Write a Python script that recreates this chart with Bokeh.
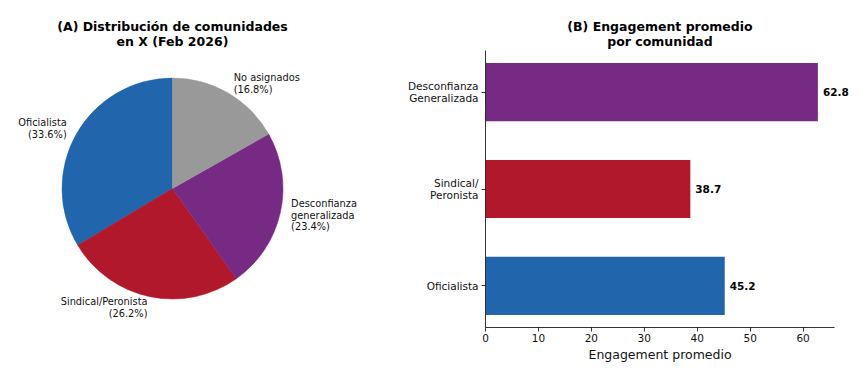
import numpy as np
from bokeh.plotting import figure
from bokeh.layouts import row
from bokeh.models import ColumnDataSource, Range1d, FixedTicker, LabelSet, Title
from bokeh.core.properties import value
from bokeh.embed import file_html
from bokeh.resources import INLINE

FONT = "DejaVu Sans"

# ---- Panel A data ----
pie_labels = ["Oficialista", "Sindical/Peronista", "Desconfianza\ngeneralizada", "No asignados"]
pie_shares = [33.6, 26.2, 23.4, 16.8]
pie_colors = ["#2166ac", "#b2182b", "#762a83", "#999999"]
pie_title = "(A) Distribución de comunidades\nen X (Feb 2026)"

# ---- Panel B data ----
bar_labels = ["Oficialista", "Sindical/\nPeronista", "Desconfianza\nGeneralizada"]
bar_values = [45.2, 38.7, 62.8]
bar_colors = ["#2166ac", "#b2182b", "#762a83"]
x_ticks = [0, 10, 20, 30, 40, 50, 60]
bar_title = "(B) Engagement promedio\npor comunidad"
x_label = "Engagement promedio"

# ---- layout (pixels) ----
H = 366
BOTTOM = 39            # space under the frames for the x axis
FRAME_H = H - BOTTOM   # 327
W1 = 398
W2 = 456
LEFT2 = 87
FRAME_W2 = W2 - LEFT2  # 369
AXIS_W2 = 349          # visible length of the x spine

X_MAX = 65.94          # x-axis limit
Y_MIN, Y_MAX = -0.43, 2.43
AXIS_H2 = 277          # visible length of the y spine

# ---------------- Pie ----------------
p1 = figure(width=W1, height=H, x_range=Range1d(0, W1), y_range=Range1d(0, FRAME_H),
            output_backend="svg", toolbar_location=None, title=None,
            min_border_left=0, min_border_right=0, min_border_top=0, min_border_bottom=BOTTOM,
            x_axis_location=None, y_axis_location=None)
p1.grid.visible = False
p1.outline_line_color = None

cx, cy, r = 172, FRAME_H - 188, 110.5
shares = np.array(pie_shares, dtype=float)
fr = shares / shares.sum()
ends = np.pi / 2 + 2 * np.pi * np.cumsum(fr)
starts = ends - 2 * np.pi * fr
mids = (starts + ends) / 2

wsrc = ColumnDataSource(dict(start=starts, end=ends, color=pie_colors))
p1.wedge(x=cx, y=cy, radius=r, start_angle="start", end_angle="end",
         fill_color="color", line_color="color", line_width=0.5, source=wsrc)

lx = cx + 1.1 * r * np.cos(mids)
ly = cy + 1.1 * r * np.sin(mids)
texts = [f"{lab}\n({s:.1f}%)" for lab, s in zip(pie_labels, pie_shares)]
for side, cond in (("left", lambda c: c > 0), ("right", lambda c: c <= 0)):
    idx = [i for i in range(len(texts)) if cond(np.cos(mids[i]))]
    src = ColumnDataSource(dict(x=[lx[i] for i in idx], y=[ly[i] for i in idx],
                                t=[texts[i] for i in idx]))
    p1.text(x="x", y="y", text="t", source=src, text_align=side, text_baseline="middle",
            text_font=value(FONT), text_font_size="9.8px", text_color="#111111",
            text_line_height=1.03)

p1.text(x=[cx], y=[FRAME_H - 33.5], text=[pie_title], text_align="center", text_baseline="middle",
        text_font=value(FONT), text_font_size="12.5px", text_font_style="bold",
        text_color="#000000", text_line_height=1.0)

# ---------------- Bars ----------------
x_end = X_MAX * FRAME_W2 / AXIS_W2
y_end = Y_MIN + (Y_MAX - Y_MIN) * FRAME_H / AXIS_H2
p2 = figure(width=W2, height=H, x_range=Range1d(0, x_end), y_range=Range1d(Y_MIN, y_end),
            output_backend="svg", toolbar_location=None, title=None,
            min_border_left=LEFT2, min_border_right=0, min_border_top=0, min_border_bottom=BOTTOM)
p2.grid.visible = False
p2.outline_line_color = None
p2.extra_x_ranges = {"px": Range1d(0, FRAME_W2)}
p2.extra_y_ranges = {"px": Range1d(0, FRAME_H)}

ys = list(range(len(bar_labels)))
bsrc = ColumnDataSource(dict(y=ys, v=bar_values, color=bar_colors,
                             t=[f"{v:.1f}" for v in bar_values]))
p2.hbar(y="y", left=0, right="v", height=0.6, fill_color="color", line_color=None, source=bsrc)

p2.add_layout(LabelSet(x="v", y="y", text="t", source=bsrc, x_offset=5,
                       text_baseline="middle", text_font=value(FONT), text_font_size="10.5px",
                       text_font_style="bold", text_color="#000000"))

p2.text(x=[AXIS_W2 / 2], y=[FRAME_H - 33.5], text=[bar_title], text_align="center",
        text_baseline="middle", text_font=value(FONT), text_font_size="12.5px",
        text_font_style="bold", text_color="#000000", text_line_height=1.0,
        x_range_name="px", y_range_name="px")

for ax in (p2.xaxis[0], p2.yaxis[0]):
    ax.axis_line_color = "#000000"
    ax.axis_line_width = 0.8
    ax.major_tick_line_color = "#000000"
    ax.major_tick_line_width = 0.8
    ax.major_tick_in = 0
    ax.major_tick_out = 4
    ax.minor_tick_line_color = None
    ax.major_label_text_font = FONT
    ax.major_label_text_font_size = "10.5px"
    ax.major_label_text_color = "#111111"
    ax.major_label_text_line_height = 0.95

p2.xaxis.bounds = (0, X_MAX)
p2.xaxis.ticker = FixedTicker(ticks=x_ticks)
p2.xaxis.major_label_standoff = 2

# x-axis title, centred under the visible spine (not the wider frame)
p2.add_layout(Title(text=x_label, align="left", offset=AXIS_W2 / 2 - 71.5, standoff=0,
                    text_font=FONT, text_font_size="12.5px", text_font_style="normal",
                    text_color="#111111"), "below")

p2.yaxis.bounds = (Y_MIN, Y_MAX)
p2.yaxis.ticker = FixedTicker(ticks=ys)
p2.yaxis.major_label_overrides = {y: lab for y, lab in zip(ys, bar_labels)}
p2.yaxis.major_label_standoff = 3

layout = row(p1, p2)
open("out.html", "w").write(file_html(layout, INLINE))
